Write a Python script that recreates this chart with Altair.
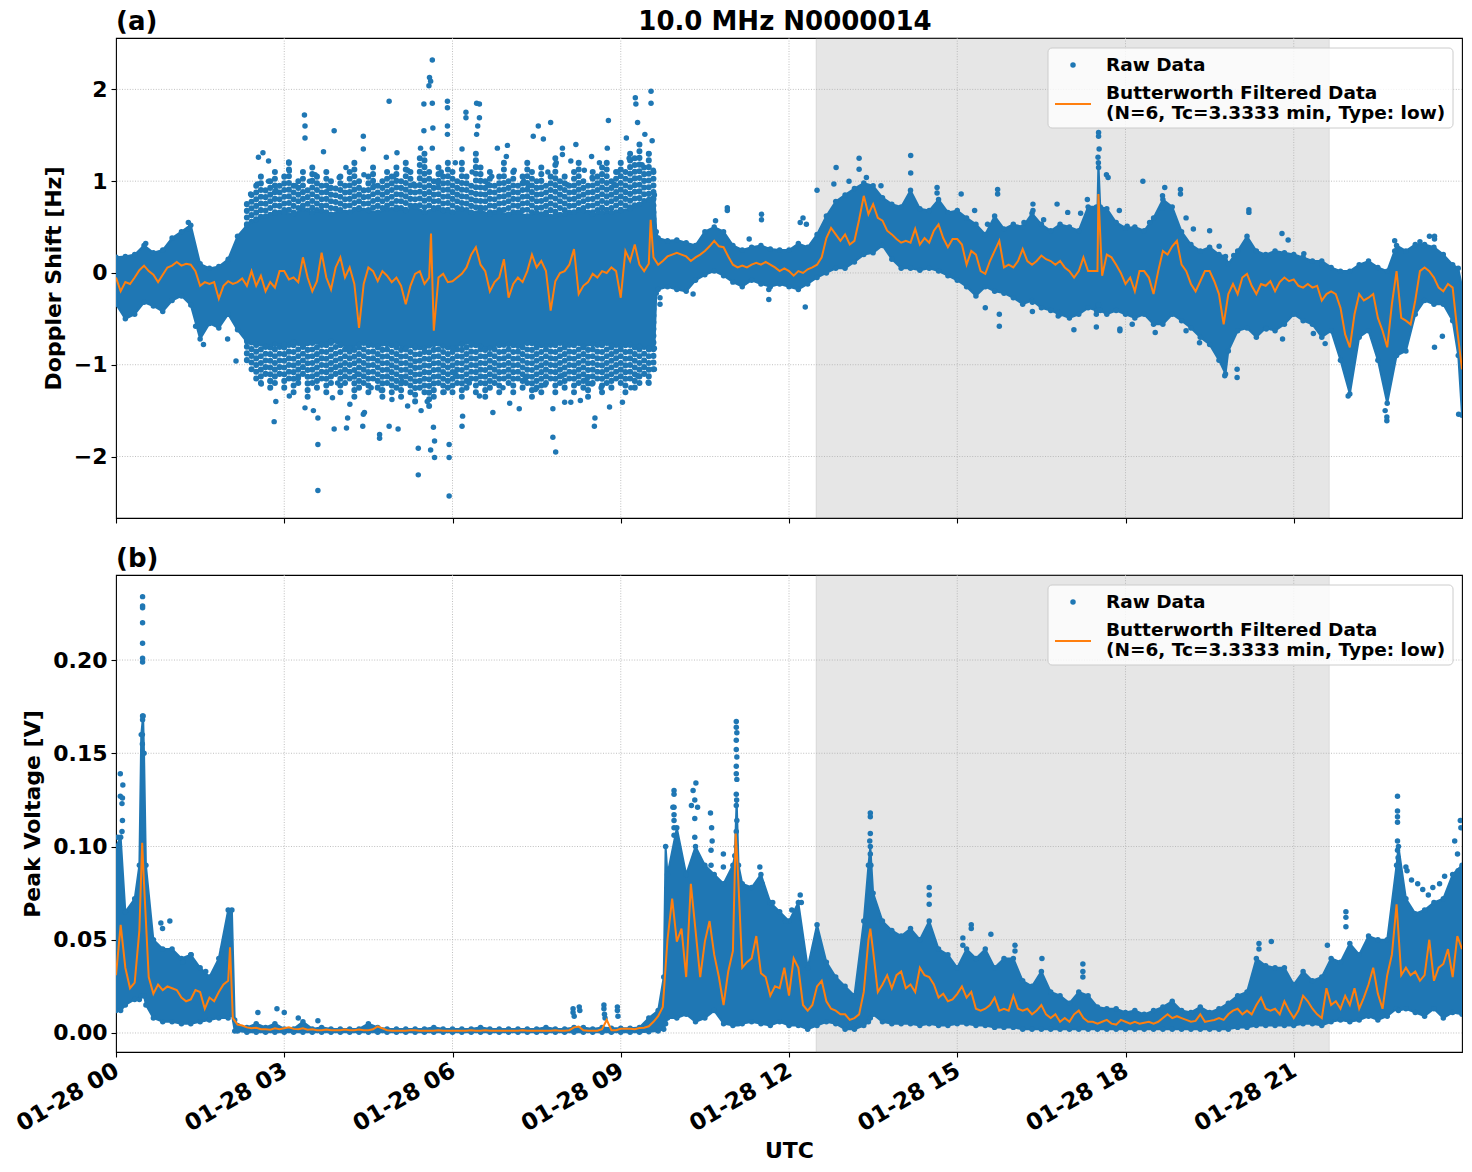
import altair as alt
import pandas as pd

BLUE = "#1f77b4"
ORANGE = "#ff7f0e"
FONT = "DejaVu Sans"

TITLE = "10.0 MHz N0000014"
RAW_LABEL = "Raw Data"
FILT_LABEL_1 = "Butterworth Filtered Data"
FILT_LABEL_2 = "(N=6, Tc=3.3333 min, Type: low)"
DAY_LABEL = "01-28"
HOUR_TICKS = [0, 3, 6, 9, 12, 15, 18, 21]

# daylight span shaded on both panels (minutes after 00:00 UTC)
SHADE_START_MIN = 749
SHADE_END_MIN = 1298

# ---------------- panel (a): Doppler shift [Hz] ----------------
# dense core of the raw samples, one value every 10 minutes (00:00 .. 24:00)
DOPPLER_HI = [
    0.17, 0.18, 0.20, 0.30, 0.22, 0.25,
    0.38, 0.45, 0.52, 0.10, 0.05, 0.07,
    0.15, 0.40, 0.52, 0.58, 0.62, 0.65,
    0.66, 0.64, 0.70, 0.66, 0.68, 0.64,
    0.68, 0.66, 0.70, 0.68, 0.66, 0.70,
    0.70, 0.68, 0.72, 0.66, 0.70, 0.68,
    0.66, 0.70, 0.66, 0.68, 0.64, 0.66,
    0.64, 0.66, 0.62, 0.66, 0.64, 0.62,
    0.64, 0.66, 0.68, 0.64, 0.66, 0.66,
    0.68, 0.70, 0.75, 0.80, 0.38, 0.35,
    0.36, 0.33, 0.30, 0.45, 0.50, 0.45,
    0.30, 0.25, 0.28, 0.30, 0.26, 0.25,
    0.25, 0.32, 0.28, 0.42, 0.62, 0.78,
    0.85, 0.92, 0.98, 0.95, 0.82, 0.75,
    0.72, 0.90, 0.70, 0.68, 0.80, 0.66,
    0.68, 0.60, 0.53, 0.42, 0.62, 0.48,
    0.53, 0.50, 0.65, 0.53, 0.46, 0.53,
    0.50, 0.46, 0.72, 0.70, 0.70, 0.55,
    0.49, 0.50, 0.46, 0.60, 0.80, 0.72,
    0.45, 0.31, 0.24, 0.28, 0.20, 0.10,
    0.24, 0.40, 0.24, 0.20, 0.24, 0.22,
    0.20, 0.17, 0.13, 0.13, 0.06, 0.02,
    0.02, 0.09, 0.13, 0.06, 0.02, 0.30,
    0.24, 0.31, 0.31, 0.28, 0.20, 0.09,
    -0.15,
]
DOPPLER_LO = [
    -0.34, -0.50, -0.45, -0.32, -0.36, -0.42,
    -0.30, -0.25, -0.35, -0.72, -0.55, -0.60,
    -0.45, -0.62, -0.75, -0.78, -0.80, -0.78,
    -0.78, -0.75, -0.80, -0.76, -0.78, -0.74,
    -0.78, -0.82, -0.78, -0.76, -0.80, -0.78,
    -0.78, -0.82, -0.80, -0.82, -0.78, -0.80,
    -0.82, -0.78, -0.76, -0.80, -0.82, -0.78,
    -0.78, -0.80, -0.76, -0.78, -0.80, -0.76,
    -0.78, -0.76, -0.80, -0.78, -0.76, -0.79,
    -0.80, -0.78, -0.80, -0.82, -0.18, -0.15,
    -0.18, -0.20, -0.08, -0.02, 0.02, -0.03,
    -0.10, -0.15, -0.08, -0.12, -0.15, -0.12,
    -0.15, -0.18, -0.12, -0.05, 0.00, 0.05,
    0.05, 0.12, 0.20, 0.22, 0.30, 0.15,
    0.05, 0.05, 0.03, 0.05, 0.02, -0.03,
    -0.08, -0.15, -0.25, -0.15, -0.20, -0.22,
    -0.27, -0.34, -0.30, -0.38, -0.41, -0.45,
    -0.49, -0.45, -0.38, -0.41, -0.45, -0.41,
    -0.45, -0.49, -0.45, -0.56, -0.56, -0.45,
    -0.52, -0.60, -0.70, -0.78, -0.95, -0.85,
    -0.63, -0.60, -0.70, -0.60, -0.63, -0.56,
    -0.45, -0.52, -0.56, -0.70, -0.63, -0.95,
    -1.32, -0.70, -0.63, -0.95, -1.42, -0.90,
    -0.85, -0.45, -0.30, -0.34, -0.34, -0.52,
    -1.55,
]
# sharp features of the core between the 10-minute steps: (minute, low, high)
DOPPLER_EDGE_EXTRA = [
    (576, -0.82, 0.85), (578, -0.22, 0.45),
    (1049, -0.41, 0.72), (1051, -0.35, 1.20), (1053, -0.41, 0.72),
    (1187, -1.10, 0.18), (1436, -0.90, 0.05),
]
# loosely packed samples around the core during the disturbed interval,
# outermost value every 5 minutes starting at 02:20
DOPPLER_FRINGE_START_MIN = 140
DOPPLER_FRINGE_TOP = [
    0.75, 0.85, 0.95, 1.05, 0.90, 1.00, 1.10, 0.95,
    1.05, 1.20, 0.95, 1.00, 1.10, 0.90, 1.15, 1.05, 0.95, 1.10, 1.00, 0.92,
    1.05, 0.95, 1.10, 1.20, 1.00, 0.90, 1.05, 1.15, 0.95, 1.00, 1.10, 1.05,
    1.15, 1.00, 1.20, 1.10, 0.95, 1.25, 1.30, 1.10, 1.00, 1.15, 1.05, 1.20,
    1.10, 1.00, 1.20, 1.05, 0.95, 1.30, 1.15, 1.00, 1.10, 0.95, 1.05, 1.20,
    1.00, 1.10, 0.95, 1.05, 1.20, 1.10, 1.00, 1.15, 0.95, 1.05, 1.25, 1.00,
    1.05, 0.95, 1.10, 1.20, 1.00, 0.95, 1.10, 1.05, 1.15, 1.20, 1.00, 1.10,
    1.20, 1.10, 1.30, 1.25, 1.40, 1.15, 1.30, 1.10,
]
DOPPLER_FRINGE_BOTTOM = [
    -0.95, -1.05, -1.15, -1.20, -1.10, -1.25, -1.20, -1.10,
    -1.25, -1.15, -1.30, -1.20, -1.10, -1.35, -1.20, -1.25, -1.15, -1.30, -1.20, -1.10,
    -1.30, -1.20, -1.15, -1.35, -1.25, -1.20, -1.30, -1.15, -1.25, -1.35, -1.20, -1.30,
    -1.25, -1.35, -1.20, -1.30, -1.40, -1.25, -1.30, -1.45, -1.35, -1.20, -1.30, -1.25,
    -1.30, -1.20, -1.35, -1.25, -1.15, -1.30, -1.20, -1.35, -1.25, -1.20, -1.30, -1.15,
    -1.20, -1.30, -1.15, -1.25, -1.20, -1.35, -1.25, -1.30, -1.20, -1.15, -1.30, -1.20,
    -1.25, -1.15, -1.30, -1.20, -1.25, -1.35, -1.20, -1.15, -1.30, -1.20, -1.25, -1.15,
    -1.20, -1.30, -1.15, -1.25, -1.20, -1.10, -1.20, -1.05,
]
# filtered curve, one value every 5 minutes (00:00 .. 24:00)
DOPPLER_FILT = [
    -0.05, -0.20, -0.10, -0.12, -0.05, 0.03, 0.08, 0.02, -0.02, -0.10, -0.02, 0.06,
    0.08, 0.12, 0.08, 0.10, 0.09, 0.02, -0.14, -0.10, -0.12, -0.10, -0.28, -0.14,
    -0.09, -0.12, -0.10, -0.06, -0.14, 0.02, -0.14, -0.03, -0.20, -0.10, -0.16, 0.02,
    0.02, -0.07, -0.05, -0.10, 0.17, -0.05, -0.20, -0.09, 0.22, -0.05, -0.18, 0.06,
    0.17, -0.05, 0.06, -0.12, -0.60, -0.12, 0.06, 0.02, -0.09, 0.02, -0.03, -0.10,
    -0.05, -0.14, -0.34, -0.14, -0.01, 0.02, -0.12, -0.05, -0.63, -0.05, -0.01, -0.10,
    -0.09, -0.05, -0.01, 0.06, 0.20, 0.28, 0.09, 0.02, -0.20, -0.10, -0.05, 0.15,
    -0.27, -0.12, -0.05, -0.10, 0.02, 0.20, 0.06, 0.13, 0.02, -0.41, -0.09, 0.00,
    0.02, 0.09, 0.26, -0.23, -0.14, -0.10, -0.01, -0.05, 0.02, 0.00, 0.06, 0.02,
    -0.27, 0.24, 0.13, 0.31, 0.09, 0.02, 0.10, 0.17, 0.09, 0.13, 0.18, 0.20,
    0.22, 0.20, 0.18, 0.13, 0.17, 0.20, 0.24, 0.29, 0.35, 0.29, 0.28, 0.18,
    0.09, 0.06, 0.08, 0.06, 0.09, 0.11, 0.09, 0.12, 0.09, 0.06, 0.02, 0.05,
    0.02, -0.03, 0.02, 0.00, 0.04, 0.06, 0.09, 0.17, 0.38, 0.49, 0.42, 0.35,
    0.42, 0.31, 0.35, 0.58, 0.84, 0.64, 0.75, 0.60, 0.57, 0.46, 0.42, 0.37,
    0.33, 0.35, 0.33, 0.48, 0.31, 0.38, 0.33, 0.46, 0.53, 0.38, 0.28, 0.37,
    0.37, 0.31, 0.09, 0.24, 0.20, 0.02, -0.01, 0.13, 0.24, 0.35, 0.06, 0.09,
    0.06, 0.13, 0.26, 0.13, 0.09, 0.13, 0.19, 0.15, 0.13, 0.09, 0.13, 0.06,
    0.02, -0.05, 0.02, 0.17, 0.02, 0.02, 0.02, -0.03, 0.20, 0.17, 0.09, 0.00,
    -0.12, -0.05, -0.20, 0.02, 0.02, -0.05, -0.23, 0.02, 0.24, 0.20, 0.29, 0.35,
    0.09, 0.02, -0.12, -0.20, -0.09, 0.02, 0.02, -0.09, -0.23, -0.56, -0.23, -0.12,
    -0.23, -0.05, -0.01, -0.14, -0.23, -0.12, -0.14, -0.09, -0.20, -0.10, -0.05, -0.09,
    -0.07, -0.14, -0.16, -0.12, -0.16, -0.14, -0.30, -0.23, -0.20, -0.23, -0.38, -0.67,
    -0.81, -0.45, -0.23, -0.30, -0.27, -0.23, -0.49, -0.63, -0.81, -0.34, 0.02, -0.49,
    -0.52, -0.56, -0.30, 0.02, 0.06, 0.02, -0.05, -0.16, -0.20, -0.12, -0.16, -0.63,
    -1.05,
]
# narrow spikes of the filtered curve: (minute, value)
DOPPLER_FILT_EXTRA = [(337, 0.43), (572, 0.58), (1051, 0.86)]
# isolated raw samples outside the dense core: (hour, value)
DOPPLER_SCATTER = [
    (5.64, 2.32), (5.59, 2.13), (5.61, 2.09), (5.58, 2.04), (5.49, 1.84), (5.64, 1.85),
    (5.91, 1.87), (5.91, 1.80), (5.91, 1.60), (5.91, 1.51), (6.24, 1.75), (6.24, 1.69),
    (6.43, 1.85), (6.48, 1.84), (6.48, 1.69), (6.45, 1.60), (6.43, 1.51), (4.87, 1.87),
    (3.36, 1.72), (3.37, 1.60), (3.37, 1.47), (3.89, 1.55), (4.41, 1.49), (4.41, 1.35),
    (3.70, 1.32), (2.54, 1.26), (2.62, 1.31), (2.72, 1.22), (9.54, 1.98), (9.26, 1.91),
    (9.27, 1.84), (9.54, 1.85), (8.78, 1.66), (9.30, 1.64), (7.75, 1.64), (7.53, 1.60),
    (7.44, 1.49), (7.62, 1.46), (8.20, 1.40), (7.96, 1.36), (9.10, 1.47), (9.43, 1.51),
    (9.56, 1.44), (6.98, 1.39), (6.80, 1.36), (6.96, 1.27), (5.49, 1.55), (5.65, 1.58),
    (5.64, 1.36), (5.43, 1.36), (5.01, 1.31), (4.82, 1.26), (6.17, 1.35), (8.48, 1.27),
    (8.76, 1.36), (7.96, 1.29), (8.11, 1.22), (3.08, 1.21), (3.09, 1.11), (3.55, 1.07),
    (3.98, 1.04), (4.42, 1.07), (5.31, 0.97), (5.74, 0.98), (6.63, 0.97), (7.27, 1.00),
    (8.49, 1.04), (8.88, 0.97), (2.52, 0.97), (2.72, 1.00), (2.40, 0.86), (3.20, 0.95),
    (3.80, 0.92), (4.10, 1.15), (4.60, 0.95), (4.95, 1.05), (5.20, 1.12), (5.80, 1.10),
    (6.05, 1.20), (6.35, 1.10), (6.70, 1.05), (7.10, 1.12), (7.35, 0.95), (7.70, 1.10),
    (7.85, 1.20), (8.05, 0.96), (8.35, 1.12), (8.62, 1.20), (8.95, 1.10), (9.15, 1.25),
    (9.38, 1.18), (9.50, 1.30), (9.58, 1.12), (2.85, 0.90), (3.45, 1.00),
    (3.60, -2.37), (5.94, -2.43), (5.39, -2.20), (5.68, -2.01), (5.94, -2.01), (5.61, -1.93),
    (5.68, -1.83), (5.94, -1.87), (6.17, -1.67), (3.60, -1.87), (7.79, -1.79), (7.84, -1.95),
    (8.53, -1.67), (8.54, -1.58), (2.82, -1.62), (3.89, -1.70), (4.11, -1.69), (4.70, -1.76),
    (4.70, -1.80), (4.40, -1.67), (4.43, -1.52), (4.87, -1.67), (5.03, -1.70), (5.39, -1.91),
    (4.13, -1.58), (3.60, -1.58), (3.09, -1.34), (2.85, -1.40), (3.37, -1.47), (3.52, -1.50),
    (3.86, -1.36), (4.17, -1.43), (4.41, -1.54), (4.73, -1.28), (4.92, -1.38), (5.20, -1.45),
    (5.44, -1.50), (5.66, -1.68), (6.18, -1.56), (6.48, -1.34), (6.72, -1.52), (7.02, -1.42),
    (7.19, -1.48), (7.48, -1.27), (7.79, -1.48), (8.00, -1.41), (8.11, -1.41), (8.28, -1.39),
    (8.49, -1.21), (8.80, -1.46), (9.03, -1.41), (9.18, -1.25), (9.49, -1.19), (2.59, -1.21),
    (2.75, -1.18), (2.14, -0.96), (1.99, -0.72), (1.56, -0.78), (1.42, -0.58), (10.29, -0.23),
    (11.64, -0.29), (11.64, -0.18), (9.70, -0.34), (9.70, -0.27), (3.25, -1.15), (3.95, -1.20),
    (4.55, -1.25), (5.10, -1.18), (5.85, -1.30), (6.30, -1.20), (6.90, -1.25), (7.30, -1.15),
    (7.65, -1.22), (8.40, -1.15), (8.65, -1.25), (9.30, -1.12), (9.60, -1.05), (6.05, -1.10),
    (4.30, -1.10), (5.55, -1.40), (7.95, -1.12),
    (10.90, 0.71), (10.90, 0.68), (11.51, 0.64), (11.51, 0.58), (11.29, 0.37), (10.69, 0.57),
    (1.29, 0.55), (1.29, 0.48), (0.53, 0.32),
    (17.52, 1.53), (17.52, 1.49), (17.53, 1.35), (17.51, 1.26), (17.52, 1.15), (17.66, 1.07),
    (17.69, 1.04), (18.31, 1.00), (14.17, 1.28), (14.17, 1.09), (13.25, 1.25), (13.25, 1.13),
    (12.84, 1.15), (12.50, 0.90), (12.31, 0.53), (12.29, -0.37), (15.07, 0.86), (15.72, 0.91),
    (15.72, 0.86), (16.35, 0.75), (16.35, 0.68), (16.78, 0.75), (17.20, 0.65), (17.32, 0.80),
    (18.70, 0.93), (18.98, 0.91), (18.98, 0.86), (20.20, 0.69), (20.20, 0.66), (20.79, 0.43),
    (20.90, 0.36), (22.80, 0.35), (22.80, 0.24), (23.42, 0.40), (23.51, 0.40), (23.51, 0.37),
    (15.75, -0.45), (15.75, -0.58), (15.50, -0.38), (16.34, -0.32), (16.34, -0.42), (16.80, -0.43),
    (16.80, -0.47), (17.08, -0.62), (17.48, -0.59), (17.48, -0.45), (17.90, -0.61), (17.90, -0.63),
    (18.12, -0.56), (18.53, -0.65), (19.08, -0.63), (19.32, -0.76), (19.77, -1.12), (19.99, -1.05),
    (19.99, -1.14), (20.51, -0.61), (20.80, -0.72), (21.35, -0.66), (21.56, -0.77), (21.97, -1.34),
    (22.63, -1.50), (22.66, -1.61), (22.66, -1.57), (23.51, -0.81), (23.65, -0.69), (23.94, -1.54),
    (12.80, 0.97), (13.07, 1.00), (13.38, 1.04), (13.64, 0.95), (14.64, 0.93), (14.64, 0.87),
    (15.31, 0.68), (15.54, 0.53), (16.19, 0.55), (16.54, 0.58), (16.97, 0.66), (17.89, 0.68),
    (18.03, 0.51), (18.43, 0.55), (18.66, 0.71), (18.66, 0.84), (19.08, 0.60), (19.21, 0.48),
    (19.50, 0.46), (19.67, 0.29), (19.93, 0.19), (20.49, 0.19), (21.18, 0.21), (21.50, 0.09),
    (23.25, 0.34), (23.32, 0.30), (12.20, 0.55), (12.25, 0.60),
]

# ---------------- panel (b): peak voltage [V] ----------------
VOLT_HI = [
    0.100, 0.065, 0.072, 0.150, 0.050, 0.045,
    0.045, 0.040, 0.042, 0.035, 0.030, 0.040,
    0.066, 0.004, 0.003, 0.005, 0.003, 0.005,
    0.0022, 0.0022, 0.0060, 0.0022, 0.0030, 0.0022,
    0.0022, 0.0022, 0.0022, 0.0050, 0.0030, 0.0022,
    0.0022, 0.0022, 0.0022, 0.0022, 0.0030, 0.0022,
    0.0022, 0.0022, 0.0022, 0.0030, 0.0022, 0.0022,
    0.0022, 0.0022, 0.0022, 0.0022, 0.0030, 0.0022,
    0.0022, 0.0030, 0.0030, 0.0022, 0.0030, 0.0025,
    0.0025, 0.0025, 0.0030, 0.0080, 0.0120, 0.085,
    0.110, 0.085, 0.100, 0.090, 0.085, 0.080,
    0.090, 0.080, 0.078, 0.085, 0.070, 0.065,
    0.060, 0.070, 0.035, 0.058, 0.038, 0.030,
    0.025, 0.020, 0.060, 0.075, 0.060, 0.055,
    0.052, 0.056, 0.050, 0.060, 0.045, 0.042,
    0.035, 0.045, 0.040, 0.045, 0.035, 0.040,
    0.040, 0.028, 0.025, 0.033, 0.022, 0.020,
    0.016, 0.022, 0.020, 0.014, 0.013, 0.013,
    0.011, 0.012, 0.010, 0.012, 0.014, 0.017,
    0.012, 0.011, 0.014, 0.011, 0.013, 0.016,
    0.020, 0.022, 0.040, 0.036, 0.035, 0.035,
    0.026, 0.033, 0.028, 0.030, 0.040, 0.038,
    0.048, 0.042, 0.052, 0.050, 0.050, 0.090,
    0.072, 0.064, 0.066, 0.070, 0.072, 0.085,
    0.090,
]
VOLT_LO = [
    0.012, 0.015, 0.018, 0.020, 0.008, 0.006,
    0.006, 0.005, 0.005, 0.006, 0.007, 0.008,
    0.008, 0.001, 0.0004, 0.0004, 0.0004, 0.0004,
    0.0004, 0.0004, 0.0004, 0.0004, 0.0004, 0.0004,
    0.0004, 0.0004, 0.0004, 0.0004, 0.0004, 0.0004,
    0.0004, 0.0004, 0.0004, 0.0004, 0.0004, 0.0004,
    0.0004, 0.0004, 0.0004, 0.0004, 0.0004, 0.0004,
    0.0004, 0.0004, 0.0004, 0.0004, 0.0004, 0.0004,
    0.0004, 0.0004, 0.0004, 0.0004, 0.0004, 0.0004,
    0.0004, 0.0004, 0.0004, 0.0006, 0.001, 0.008,
    0.008, 0.010, 0.006, 0.008, 0.012, 0.005,
    0.004, 0.005, 0.006, 0.005, 0.004, 0.006,
    0.004, 0.004, 0.002, 0.004, 0.006, 0.005,
    0.002, 0.002, 0.004, 0.010, 0.006, 0.005,
    0.005, 0.005, 0.004, 0.005, 0.004, 0.004,
    0.005, 0.005, 0.004, 0.004, 0.003, 0.003,
    0.003, 0.002, 0.002, 0.002, 0.002, 0.002,
    0.002, 0.002, 0.002, 0.002, 0.002, 0.002,
    0.002, 0.002, 0.002, 0.002, 0.002, 0.002,
    0.002, 0.002, 0.002, 0.002, 0.002, 0.002,
    0.003, 0.003, 0.004, 0.004, 0.004, 0.004,
    0.004, 0.005, 0.005, 0.004, 0.006, 0.007,
    0.006, 0.007, 0.009, 0.007, 0.009, 0.013,
    0.013, 0.011, 0.009, 0.013, 0.008, 0.011,
    0.010,
]
VOLT_EDGE_EXTRA = [
    (5, 0.012, 0.105), (25, 0.018, 0.090), (27, 0.020, 0.160), (29, 0.020, 0.170),
    (32, 0.015, 0.090), (124, 0.010, 0.066), (127, 0.001, 0.007), (586, 0.002, 0.030),
    (588, 0.005, 0.100), (662, 0.005, 0.095), (664, 0.005, 0.125), (666, 0.005, 0.090),
    (805, 0.006, 0.090), (807, 0.008, 0.100), (1372, 0.012, 0.100),
]
VOLT_FILT = [
    0.031, 0.058, 0.035, 0.024, 0.027, 0.055, 0.080, 0.030, 0.021, 0.026, 0.023, 0.025,
    0.024, 0.023, 0.019, 0.017, 0.018, 0.023, 0.022, 0.013, 0.019, 0.017, 0.022, 0.026,
    0.028, 0.008, 0.0045, 0.004, 0.003, 0.0025, 0.0028, 0.002, 0.002, 0.0018, 0.0025, 0.002,
    0.0025, 0.003, 0.0022, 0.002, 0.0025, 0.0018, 0.002, 0.0015, 0.0015, 0.0018, 0.0015, 0.0015,
    0.0015, 0.0018, 0.0015, 0.0015, 0.0018, 0.0015, 0.0015, 0.002, 0.0035, 0.0025, 0.0015, 0.0012,
    0.0012, 0.0012, 0.0012, 0.0015, 0.0015, 0.0012, 0.0012, 0.0012, 0.0012, 0.0015, 0.0012, 0.0012,
    0.0012, 0.0012, 0.0012, 0.0012, 0.0015, 0.0012, 0.0012, 0.0015, 0.0012, 0.0012, 0.0012, 0.0012,
    0.0012, 0.0012, 0.0012, 0.0015, 0.0012, 0.0012, 0.0012, 0.0012, 0.0012, 0.0012, 0.0015, 0.0012,
    0.0012, 0.0015, 0.003, 0.0035, 0.0015, 0.0012, 0.0012, 0.0012, 0.002, 0.007, 0.0015, 0.0015,
    0.0023, 0.0023, 0.0023, 0.002, 0.0027, 0.0028, 0.0036, 0.006, 0.009, 0.014, 0.050, 0.072,
    0.049, 0.056, 0.030, 0.080, 0.055, 0.030, 0.049, 0.060, 0.042, 0.030, 0.015, 0.033,
    0.044, 0.090, 0.035, 0.038, 0.040, 0.052, 0.032, 0.030, 0.020, 0.025, 0.024, 0.035,
    0.020, 0.040, 0.035, 0.015, 0.012, 0.015, 0.025, 0.028, 0.017, 0.013, 0.012, 0.010,
    0.010, 0.007, 0.008, 0.010, 0.022, 0.050, 0.044, 0.022, 0.026, 0.031, 0.024, 0.031,
    0.033, 0.024, 0.026, 0.022, 0.035, 0.031, 0.030, 0.026, 0.019, 0.021, 0.017, 0.018,
    0.021, 0.025, 0.019, 0.022, 0.013, 0.012, 0.013, 0.015, 0.019, 0.012, 0.013, 0.012,
    0.020, 0.013, 0.012, 0.013, 0.010, 0.012, 0.015, 0.010, 0.008, 0.010, 0.006, 0.008,
    0.006, 0.010, 0.012, 0.008, 0.006, 0.006, 0.005, 0.006, 0.007, 0.005, 0.0045, 0.007,
    0.006, 0.005, 0.006, 0.005, 0.0055, 0.006, 0.005, 0.006, 0.008, 0.010, 0.008, 0.009,
    0.008, 0.007, 0.006, 0.0065, 0.010, 0.006, 0.0065, 0.007, 0.008, 0.007, 0.010, 0.012,
    0.013, 0.010, 0.012, 0.010, 0.015, 0.019, 0.013, 0.012, 0.013, 0.010, 0.017, 0.012,
    0.008, 0.012, 0.020, 0.017, 0.013, 0.010, 0.008, 0.024, 0.015, 0.017, 0.013, 0.020,
    0.015, 0.024, 0.013, 0.019, 0.026, 0.035, 0.021, 0.013, 0.031, 0.042, 0.069, 0.031,
    0.035, 0.031, 0.033, 0.028, 0.031, 0.050, 0.028, 0.035, 0.037, 0.045, 0.030, 0.052,
    0.045,
]
VOLT_FILT_EXTRA = [(28, 0.102), (122, 0.046), (663, 0.107), (807, 0.056)]
VOLT_SCATTER = [
    (0.474, 0.234), (0.474, 0.229), (0.474, 0.228), (0.474, 0.220), (0.474, 0.209),
    (0.474, 0.201), (0.474, 0.199), (0.474, 0.170), (0.474, 0.168), (0.470, 0.160),
    (0.470, 0.155), (0.077, 0.139), (0.122, 0.133), (0.077, 0.127), (0.115, 0.126),
    (0.107, 0.123), (0.115, 0.114), (0.107, 0.108), (0.030, 0.105), (0.800, 0.059),
    (0.960, 0.060), (0.830, 0.056), (1.190, 0.038), (1.340, 0.042), (1.600, 0.033),
    (1.900, 0.045), (2.530, 0.011), (2.870, 0.013), (3.000, 0.011), (3.250, 0.008),
    (3.600, 0.0065), (8.150, 0.013), (8.150, 0.011), (8.170, 0.009), (8.260, 0.014),
    (8.270, 0.012), (8.700, 0.015), (8.700, 0.013), (8.710, 0.010), (8.720, 0.008),
    (8.940, 0.014), (8.940, 0.012), (8.950, 0.009),
    (9.950, 0.130), (9.950, 0.128), (9.950, 0.121), (9.950, 0.117), (9.950, 0.114),
    (9.950, 0.110), (9.950, 0.106), (9.930, 0.121), (10.260, 0.122), (10.290, 0.130),
    (10.340, 0.134), (10.370, 0.121), (10.320, 0.125), (10.320, 0.115), (10.320, 0.105),
    (10.320, 0.095), (10.600, 0.118), (10.620, 0.110), (10.630, 0.103), (10.610, 0.098),
    (10.610, 0.090), (10.830, 0.096), (10.830, 0.089), (11.480, 0.089), (11.520, 0.080),
    (11.710, 0.070), (11.940, 0.060),
    (11.060, 0.167), (11.060, 0.164), (11.070, 0.161), (11.060, 0.157), (11.060, 0.152),
    (11.070, 0.148), (11.060, 0.143), (11.060, 0.139), (11.070, 0.136), (11.060, 0.128),
    (11.060, 0.122), (11.070, 0.114), (11.060, 0.108), (11.060, 0.100),
    (12.200, 0.074), (12.220, 0.070), (12.050, 0.066),
    (13.450, 0.118), (13.450, 0.116), (13.450, 0.107), (13.440, 0.103), (13.450, 0.096),
    (13.460, 0.090), (14.500, 0.078), (14.500, 0.074), (14.500, 0.069), (15.100, 0.051),
    (15.100, 0.047), (15.250, 0.058), (15.250, 0.056), (15.600, 0.053), (16.030, 0.047),
    (16.030, 0.044), (16.510, 0.040), (17.240, 0.037), (17.240, 0.033), (17.240, 0.030),
    (20.380, 0.048), (20.380, 0.045), (20.600, 0.049), (21.600, 0.047), (21.930, 0.065),
    (21.930, 0.062), (21.930, 0.057), (22.850, 0.127), (22.850, 0.119), (22.850, 0.116),
    (22.850, 0.113), (22.850, 0.103), (22.850, 0.098), (22.860, 0.094), (22.860, 0.089),
    (23.000, 0.089), (23.020, 0.087), (23.210, 0.080), (23.400, 0.074), (23.480, 0.078),
    (23.690, 0.084), (23.870, 0.103), (23.920, 0.096), (23.970, 0.114), (23.980, 0.110),
    (23.930, 0.087), (23.600, 0.080), (23.300, 0.077), (23.100, 0.082),
]

assert len(DOPPLER_HI) == len(DOPPLER_LO) == len(VOLT_HI) == len(VOLT_LO) == 145
assert len(DOPPLER_FILT) == len(VOLT_FILT) == 289
assert len(DOPPLER_FRINGE_TOP) == len(DOPPLER_FRINGE_BOTTOM) == 88

PLOT_W = 1346
H_A = 480
H_B = 477


def envelope_frame(hi, lo, extra):
    rows = [{"t": i * 10 / 60, "lo": l, "hi": h} for i, (h, l) in enumerate(zip(hi, lo))]
    rows += [{"t": m / 60, "lo": l, "hi": h} for m, l, h in extra]
    return pd.DataFrame(rows).sort_values("t").reset_index(drop=True)


def filtered_frame(vals, extra):
    rows = [{"t": i * 5 / 60, "v": v} for i, v in enumerate(vals)]
    rows += [{"t": m / 60, "v": v} for m, v in extra]
    return pd.DataFrame(rows).sort_values("t").reset_index(drop=True)


def edge_frame(env):
    low = env[["t", "lo"]].rename(columns={"lo": "v"})
    high = env[["t", "hi"]].rename(columns={"hi": "v"})
    return pd.concat([low, high], ignore_index=True)


def scatter_frame(points):
    return pd.DataFrame(points, columns=["t", "v"])


def fringe_frame(start_min, top, bottom, anchor):
    return pd.DataFrame({
        "t": [(start_min + 5 * i) / 60 for i in range(len(top))],
        "top": top,
        "bottom": bottom,
        "a_hi": [anchor] * len(top),
        "a_lo": [-anchor] * len(top),
    })


SHADE_DF = pd.DataFrame({"t": [SHADE_START_MIN / 60], "t_end": [SHADE_END_MIN / 60]})


def one_row(text=""):
    return pd.DataFrame({"s": [text]})


def legend_layers():
    box = alt.Chart(one_row()).mark_rect(
        fill="white", fillOpacity=0.8, stroke="#cccccc", strokeWidth=1, cornerRadius=4
    ).encode(x=alt.value(932), x2=alt.value(1337), y=alt.value(10), y2=alt.value(90))
    dot = alt.Chart(one_row()).mark_circle(color=BLUE, size=30, opacity=1).encode(
        x=alt.value(957), y=alt.value(27)
    )
    seg = alt.Chart(one_row()).mark_rule(color=ORANGE, strokeWidth=2).encode(
        x=alt.value(939), x2=alt.value(975), y=alt.value(66)
    )
    texts = []
    for label, ypos in [(RAW_LABEL, 27), (FILT_LABEL_1, 55), (FILT_LABEL_2, 75)]:
        texts.append(
            alt.Chart(one_row(label)).mark_text(
                align="left", baseline="middle", font=FONT, fontSize=18.5,
                fontWeight="bold", color="black",
            ).encode(x=alt.value(990), y=alt.value(ypos), text="s:N")
        )
    return [box, dot, seg] + texts


def heading(text, xpos, align):
    return alt.Chart(one_row(text)).mark_text(
        align=align, baseline="alphabetic", font=FONT, fontSize=26,
        fontWeight="bold", color="black",
    ).encode(x=alt.value(xpos), y=alt.value(-8), text="s:N")


def panel(env, filt, scatter, fringe, y_domain, y_ticks, y_format, y_title, x_axis, height, headings):
    xs = alt.Scale(domain=[0, 24], nice=False, zero=False)
    ys = alt.Scale(domain=y_domain, nice=False, zero=False)
    y_axis = alt.Axis(values=y_ticks, format=y_format, title=y_title)

    def X(field):
        return alt.X(field, type="quantitative", scale=xs, axis=x_axis)

    def Y(field):
        return alt.Y(field, type="quantitative", scale=ys, axis=y_axis)

    shade = alt.Chart(SHADE_DF).mark_rect(
        fill="#808080", fillOpacity=0.2, stroke="#808080", strokeOpacity=0.2, strokeWidth=1
    ).encode(x=X("t"), x2=alt.X2("t_end"))
    grid_style = dict(color="#b0b0b0", strokeWidth=0.8, strokeDash=[1, 1.6])
    vgrid = alt.Chart(pd.DataFrame({"t": HOUR_TICKS[1:]})).mark_rule(**grid_style).encode(x=X("t"))
    hgrid = alt.Chart(pd.DataFrame({"v": y_ticks})).mark_rule(**grid_style).encode(y=Y("v"))

    layers = [shade, vgrid, hgrid]
    if fringe is not None:
        # columns of samples: a rule dashed into round dots
        dots = dict(color=BLUE, strokeWidth=6, strokeCap="round", strokeDash=[0.1, 6.6], clip=True)
        layers.append(alt.Chart(fringe).mark_rule(**dots).encode(
            x=X("t"), y=Y("top"), y2=alt.Y2("a_hi")))
        layers.append(alt.Chart(fringe).mark_rule(**dots).encode(
            x=X("t"), y=Y("bottom"), y2=alt.Y2("a_lo")))

    core = alt.Chart(env).mark_area(
        color=BLUE, stroke=BLUE, strokeWidth=2, opacity=1, clip=True
    ).encode(x=X("t"), y=Y("lo"), y2=alt.Y2("hi"))
    edges = alt.Chart(edge_frame(env)).mark_circle(
        color=BLUE, size=30, opacity=1, clip=True
    ).encode(x=X("t"), y=Y("v"))
    loose = alt.Chart(scatter).mark_circle(
        color=BLUE, size=30, opacity=1, clip=True
    ).encode(x=X("t"), y=Y("v"))
    curve = alt.Chart(filt).mark_line(
        color=ORANGE, strokeWidth=2, clip=True
    ).encode(x=X("t"), y=Y("v"))

    layers += [core, edges, loose, curve] + legend_layers() + headings
    return alt.layer(*layers).properties(width=PLOT_W, height=height)


x_axis_top = alt.Axis(values=HOUR_TICKS, labels=False, title=None)
x_axis_bottom = alt.Axis(
    values=HOUR_TICKS,
    title="UTC",
    labelExpr="'" + DAY_LABEL + " ' + (datum.value < 10 ? '0' : '') + datum.value",
    labelAngle=-30,
    labelAlign="right",
    labelBaseline="top",
    labelOffset=-5,
    labelFlush=False,
    labelOverlap=False,
    labelFontSize=23,
    labelPadding=2,
    titlePadding=5,
)

panel_a = panel(
    envelope_frame(DOPPLER_HI, DOPPLER_LO, DOPPLER_EDGE_EXTRA),
    filtered_frame(DOPPLER_FILT, DOPPLER_FILT_EXTRA),
    scatter_frame(DOPPLER_SCATTER),
    fringe_frame(DOPPLER_FRINGE_START_MIN, DOPPLER_FRINGE_TOP, DOPPLER_FRINGE_BOTTOM, 0.3),
    [-2.67, 2.56], [-2, -1, 0, 1, 2], "d", "Doppler Shift [Hz]",
    x_axis_top, H_A,
    [heading("(a)", 0, "left"), heading(TITLE, PLOT_W / 2 - 4, "center")],
)
panel_b = panel(
    envelope_frame(VOLT_HI, VOLT_LO, VOLT_EDGE_EXTRA),
    filtered_frame(VOLT_FILT, VOLT_FILT_EXTRA),
    scatter_frame(VOLT_SCATTER),
    None,
    [-0.0102, 0.2456], [0.0, 0.05, 0.10, 0.15, 0.20], ".2f", "Peak Voltage [V]",
    x_axis_bottom, H_B,
    [heading("(b)", 0, "left")],
)

chart = alt.vconcat(panel_a, panel_b, spacing=20).properties(
    padding={"left": 12, "top": 8, "right": 6, "bottom": 6}
).configure_view(
    stroke="black", strokeWidth=1.1
).configure_axis(
    grid=False, domain=False, ticks=True, tickColor="black", tickWidth=1.1, tickSize=5,
    labelFont=FONT, labelFontSize=22, labelFontWeight="bold", labelColor="black",
    labelPadding=4, titleFont=FONT, titleFontSize=22, titleFontWeight="bold",
    titleColor="black", titlePadding=8,
)

chart.save("out.html", embed_options={"renderer": "svg", "actions": False})
